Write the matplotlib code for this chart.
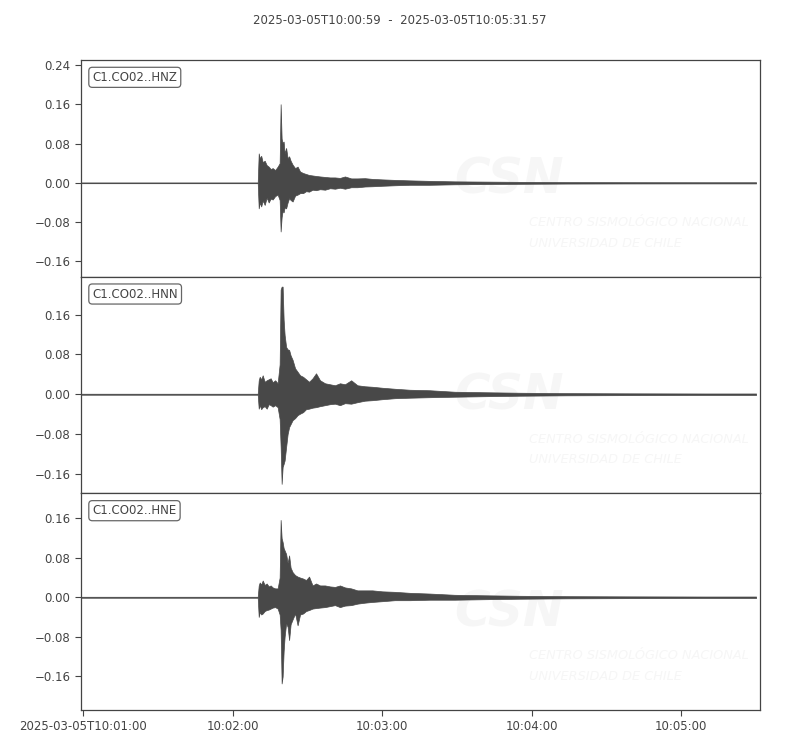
import numpy as np
import matplotlib
matplotlib.use("Agg")
import matplotlib.pyplot as plt
from matplotlib.ticker import MultipleLocator, FuncFormatter, FixedLocator, FixedFormatter
import matplotlib.dates as mdates

# --- data ----------------------------------------------------------------
start_time = "2025-03-05T10:00:59"
end_time = "2025-03-05T10:05:31.570"
title_text = "2025-03-05T10:00:59  -  2025-03-05T10:05:31.57"

channels = ["C1.CO02..HNZ", "C1.CO02..HNN", "C1.CO02..HNE"]

# seconds after start_time at which the envelope was read
t_sec = [0, 71.0, 71.4, 71.8, 72.4, 73.0, 73.8, 74.6, 75.4, 76.2, 77.0, 78.0,
         79.0, 79.8, 80.2, 80.6, 81.0, 81.4, 81.8, 82.4, 83.0, 83.6, 84.2,
         85.0, 86.0, 87.0, 88.0, 89.2, 90.4, 91.6, 93.0, 94.4, 96.0, 98.0,
         100.0, 102.0, 104.0, 106.0, 108.5, 111.0, 114.0, 117.0, 121.0,
         126.0, 132.0, 140.0, 150.0, 162.0, 176.0, 195.0, 220.0, 250.0, 271.0]

hnz_max = [0.0008, 0.0008, 0.060, 0.050, 0.055, 0.042, 0.045, 0.036, 0.033,
           0.028, 0.030, 0.026, 0.033, 0.040, 0.160, 0.090, 0.081, 0.084,
           0.060, 0.071, 0.050, 0.054, 0.045, 0.037, 0.030, 0.033, 0.023,
           0.020, 0.018, 0.016, 0.015, 0.014, 0.013, 0.012, 0.011, 0.011,
           0.010, 0.013, 0.009, 0.009, 0.0095, 0.008, 0.007, 0.006, 0.005,
           0.004, 0.003, 0.0025, 0.002, 0.0015, 0.0013, 0.0012, 0.0012]
hnz_min = [-0.0008, -0.0008, -0.052, -0.040, -0.048, -0.036, -0.045, -0.030,
           -0.040, -0.032, -0.034, -0.027, -0.024, -0.035, -0.099, -0.070,
           -0.057, -0.060, -0.050, -0.052, -0.040, -0.031, -0.035, -0.038,
           -0.026, -0.024, -0.021, -0.021, -0.017, -0.018, -0.014, -0.015,
           -0.013, -0.014, -0.011, -0.012, -0.010, -0.012, -0.009, -0.009,
           -0.0075, -0.007, -0.006, -0.005, -0.004, -0.004, -0.003, -0.0025,
           -0.002, -0.0015, -0.0013, -0.0012, -0.0012]

hnn_max = [0.001, 0.001, 0.028, 0.035, 0.030, 0.038, 0.025, 0.028, 0.030,
           0.032, 0.024, 0.028, 0.022, 0.060, 0.210, 0.216, 0.216, 0.150,
           0.119, 0.095, 0.090, 0.089, 0.078, 0.069, 0.052, 0.045, 0.038,
           0.035, 0.030, 0.025, 0.032, 0.042, 0.028, 0.022, 0.020, 0.018,
           0.022, 0.020, 0.028, 0.018, 0.016, 0.015, 0.013, 0.011, 0.009,
           0.008, 0.005, 0.004, 0.003, 0.0022, 0.0018, 0.0015, 0.0015]
hnn_min = [-0.001, -0.001, -0.029, -0.022, -0.030, -0.026, -0.024, -0.029,
           -0.020, -0.022, -0.025, -0.022, -0.026, -0.050, -0.106, -0.180,
           -0.146, -0.140, -0.133, -0.106, -0.080, -0.066, -0.060, -0.052,
           -0.048, -0.042, -0.039, -0.036, -0.030, -0.029, -0.027, -0.026,
           -0.024, -0.022, -0.020, -0.019, -0.022, -0.018, -0.019, -0.016,
           -0.013, -0.012, -0.010, -0.008, -0.007, -0.006, -0.005, -0.004,
           -0.003, -0.0022, -0.0018, -0.0015, -0.0015]

hne_max = [0.001, 0.001, 0.024, 0.030, 0.026, 0.034, 0.025, 0.028, 0.022,
           0.024, 0.020, 0.018, 0.018, 0.040, 0.157, 0.120, 0.112, 0.100,
           0.095, 0.088, 0.070, 0.085, 0.060, 0.051, 0.045, 0.042, 0.040,
           0.038, 0.035, 0.042, 0.024, 0.028, 0.024, 0.024, 0.022, 0.021,
           0.024, 0.020, 0.018, 0.014, 0.014, 0.014, 0.012, 0.011, 0.009,
           0.0075, 0.005, 0.004, 0.003, 0.0022, 0.0018, 0.0015, 0.0015]
hne_min = [-0.001, -0.001, -0.040, -0.030, -0.035, -0.033, -0.028, -0.026,
           -0.025, -0.023, -0.021, -0.020, -0.023, -0.035, -0.067, -0.175,
           -0.161, -0.110, -0.080, -0.053, -0.060, -0.087, -0.055, -0.045,
           -0.033, -0.057, -0.035, -0.033, -0.028, -0.026, -0.023, -0.022,
           -0.021, -0.020, -0.018, -0.016, -0.020, -0.017, -0.016, -0.013,
           -0.011, -0.0095, -0.008, -0.006, -0.006, -0.005, -0.005, -0.004,
           -0.003, -0.0022, -0.0018, -0.0015, -0.0015]

y_limits = [(-0.191, 0.250), (-0.199, 0.236), (-0.229, 0.211)]

tick_times = ["2025-03-05T10:01:00", "2025-03-05T10:02:00", "2025-03-05T10:03:00",
              "2025-03-05T10:04:00", "2025-03-05T10:05:00"]
tick_labels = ["2025-03-05T10:01:00", "10:02:00", "10:03:00", "10:04:00", "10:05:00"]

# --- plotting ---------------------------------------------------------------
grey = "#444444"
wm = "#f6f6f6"   # watermark colour
plt.rcParams["font.family"] = ["DejaVu Sans"]
plt.rcParams["font.size"] = 8

t0 = np.datetime64(start_time, "ms")
times = t0 + (np.array(t_sec) * 1000).astype("timedelta64[ms]")
env_max = [hnz_max, hnn_max, hne_max]
env_min = [hnz_min, hnn_min, hne_min]

def fmt_y(v, pos):
    s = f"{v:.2f}"
    if s == "-0.00":
        s = "0.00"
    return s.replace("-", "\u2212")

fig, axes = plt.subplots(3, 1, sharex=True, figsize=(8, 7.5), dpi=100)
fig.subplots_adjust(left=0.101, right=0.95, top=0.92, bottom=0.0533, hspace=0)

for i, ax in enumerate(axes):
    ax.fill_between(times, env_min[i], env_max[i], color="#484848", lw=0.5,
                    edgecolor="#484848", zorder=3)
    ax.set_ylim(*y_limits[i])
    ax.yaxis.set_major_locator(MultipleLocator(0.08))
    ax.yaxis.set_major_formatter(FuncFormatter(fmt_y))
    ax.tick_params(axis="both", colors=grey, labelcolor=grey, labelsize=8.5,
                   length=4, width=0.8)
    for sp in ax.spines.values():
        sp.set_color(grey)
        sp.set_linewidth(0.9)
    ax.text(0.017, 0.95, channels[i], transform=ax.transAxes, va="top",
            ha="left", color=grey, fontsize=8.5, zorder=5,
            bbox=dict(boxstyle="round,pad=0.3", fc="white", ec="#666666", lw=0.9))
    # faint CSN watermark
    ax.text(0.55, 0.45, "CSN", transform=ax.transAxes, fontsize=35,
            fontweight="bold", style="italic", color=wm, va="center",
            ha="left", zorder=1, clip_on=True)
    ax.text(0.66, 0.25, "CENTRO SISMOLÓGICO NACIONAL", transform=ax.transAxes,
            fontsize=9.3, style="italic", color=wm, va="center",
            ha="left", zorder=1, clip_on=True)
    ax.text(0.66, 0.155, "UNIVERSIDAD DE CHILE", transform=ax.transAxes,
            fontsize=9.3, style="italic", color=wm, va="center",
            ha="left", zorder=1, clip_on=True)
    if i < 2:
        ax.tick_params(axis="x", bottom=False, labelbottom=False)

axes[-1].set_xlim(t0, np.datetime64(end_time, "ms"))
tick_nums = mdates.date2num(np.array(tick_times, dtype="datetime64[ms]"))
axes[-1].xaxis.set_major_locator(FixedLocator(tick_nums))
axes[-1].xaxis.set_major_formatter(FixedFormatter(tick_labels))

fig.text(0.5, 0.973, title_text, ha="center", va="center", color=grey,
         fontsize=8.5)

fig.savefig("out.png", dpi=100)
